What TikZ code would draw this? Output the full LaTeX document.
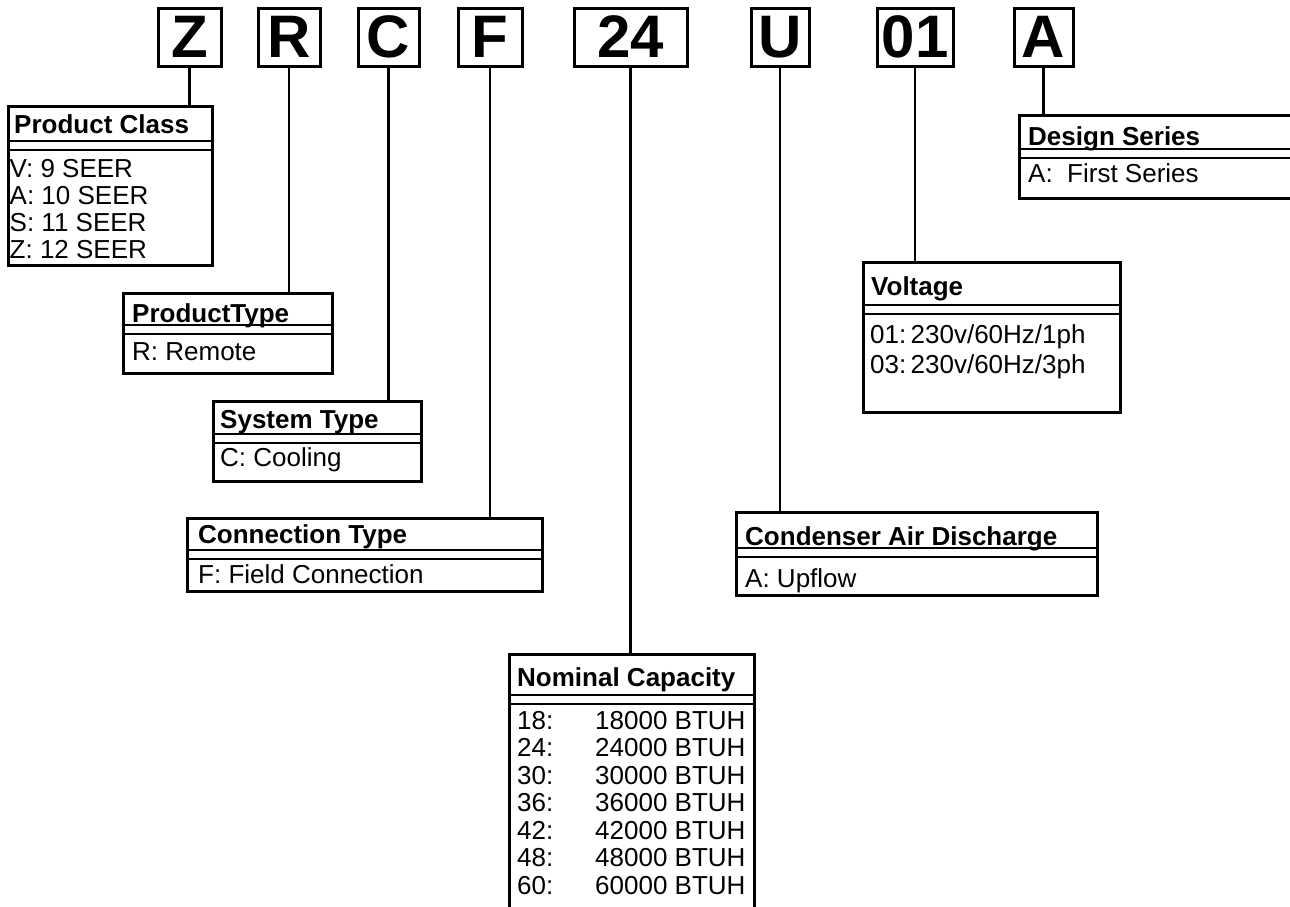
\documentclass[tikz,border=0pt]{standalone}
\usepackage{fontspec}
\setmainfont{Liberation Sans}

\begin{document}
\begin{tikzpicture}[x=1pt,y=-1pt,
        code/.style={draw,line width=3pt,inner sep=0pt,outer sep=0pt,minimum height=58pt,font=\fontsize{60}{60}\selectfont\bfseries},
        infobox/.style={draw,line width=3pt,inner sep=0pt,outer sep=0pt,anchor=north west},
        head/.style={anchor=base west,inner sep=0pt,font=\fontsize{26}{27}\selectfont\bfseries},
        entry/.style={anchor=base west,inner sep=0pt,font=\fontsize{26}{27}\selectfont},
        wire/.style={line width=2.5pt},
        sep/.style={line width=2pt}]
    \useasboundingbox (0,0) rectangle (1290,906);
    % model number code
    \foreach \n/\x/\w in {Z/189.5/63, R/289/62, C/388.5/61, F/490/64, 24/630.5/113, U/780/58, 01/915/76, A/1043.5/59}{
        \node[code,minimum width=\w] (c\n) at (\x,37) {\n};
    }
    % boxes: name/left/top/width/height/title band
    \foreach \n/\x/\y/\w/\h/\s in {pclass/8/106/204/159/35, ptype/123/293/209/80/32, stype/213/401/208/80/33,
            ctype/187/518/355/73/32, ncap/509/654/245/260/41, cad/736/512/361/83/36,
            volt/863/262/257/150/43, dser/1019/115/290/83/34}{
        \node[infobox,minimum width=\w,minimum height=\h] (\n) at (\x,\y) {};
        \draw[sep] (\x,\y+\s) -- ++(\w,0) (\x,\y+\s+9) -- ++(\w,0);
    }
    \foreach \a/\b in {Z/pclass, R/ptype, C/stype, F/ctype, 24/ncap, U/cad, 01/volt, A/dser}{
        \draw[wire] (c\a.south) -- (c\a.south |- \b.north);
    }
    % titles
    \node[head] (pclassH) at (14,133) {Product Class};
    \node[head] (ptypeH) at (132,322) {ProductType};
    \node[head] (stypeH) at (220,428) {System Type};
    \node[head] (ctypeH) at (198,543) {Connection Type};
    \node[head] (ncapH) at (517,686) {Nominal Capacity};
    \node[head] (cadH) at (745,545) {Condenser Air Discharge};
    \node[head] (voltH) at (871,295) {Voltage};
    \node[head] (dserH) at (1028,145) {Design Series};
    % entries
    \foreach \t [count=\i from 0] in {{V: 9 SEER}, {A: 10 SEER}, {S: 11 SEER}, {Z: 12 SEER}}{
        \node[entry] (pclass\i) at (9.5,177+27*\i) {\t};
    }
    \node[entry] (ptypeE) at (132,360) {R: Remote};
    \node[entry] (stypeE) at (220,466) {C: Cooling};
    \node[entry] (ctypeE) at (198,583) {F: Field Connection};
    \foreach \k [count=\i from 0] in {18,24,30,36,42,48,60}{
        \node[entry] (cap\k) at (517,729+27.5*\i) {\k:};
        \node[entry] (btu\k) at (595,729+27.5*\i) {\k000 BTUH};
    }
    \node[entry] (cadE) at (745,587) {A: Upflow};
    \node[entry] (volt1) at (870,343) {01:\,230v/60Hz/1ph};
    \node[entry] (volt3) at (870,373) {03:\,230v/60Hz/3ph};
    \node[entry] (dserE) at (1028,182) {A: \ First Series};
\end{tikzpicture}
\end{document}
